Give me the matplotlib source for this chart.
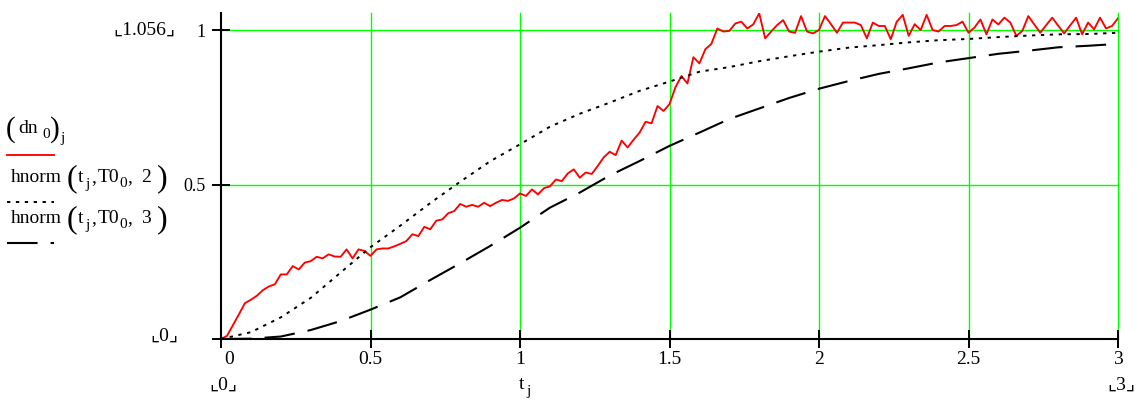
import numpy as np
import matplotlib
matplotlib.use("Agg")
import matplotlib.pyplot as plt
from matplotlib.lines import Line2D

plt.rcParams['font.family'] = ['Liberation Serif', 'DejaVu Sans']
plt.rcParams['mathtext.fontset'] = 'custom'
plt.rcParams['mathtext.rm'] = 'Liberation Serif'
plt.rcParams['mathtext.it'] = 'Liberation Serif:italic'
plt.rcParams['lines.scale_dashes'] = False

# measured response, sampled every 0.02
t_meas = np.round(np.arange(0, 3.0001, 0.02), 2)
dn0 = [
    0.000, 0.010, 0.045, 0.080, 0.116, 0.127, 0.140, 0.158, 0.170, 0.177,
    0.209, 0.209, 0.236, 0.225, 0.247, 0.252, 0.266, 0.261, 0.274, 0.267,
    0.266, 0.290, 0.261, 0.290, 0.285, 0.269, 0.290, 0.293, 0.293, 0.300,
    0.308, 0.317, 0.339, 0.333, 0.363, 0.355, 0.383, 0.387, 0.407, 0.414,
    0.437, 0.428, 0.434, 0.428, 0.441, 0.430, 0.441, 0.450, 0.447, 0.455,
    0.471, 0.463, 0.484, 0.468, 0.488, 0.494, 0.516, 0.511, 0.536, 0.549,
    0.522, 0.539, 0.534, 0.560, 0.588, 0.606, 0.595, 0.642, 0.620, 0.645,
    0.668, 0.703, 0.698, 0.754, 0.738, 0.760, 0.815, 0.851, 0.827, 0.912,
    0.892, 0.938, 0.955, 1.005, 0.995, 0.997, 1.021, 1.027, 1.005, 1.018,
    1.054, 0.973, 0.995, 1.016, 1.032, 0.995, 0.991, 1.045, 0.995, 0.989,
    1.000, 1.045, 1.019, 0.991, 1.024, 1.024, 1.024, 1.016, 0.973, 1.024,
    1.013, 1.013, 0.970, 1.027, 1.049, 0.981, 1.019, 1.000, 1.049, 1.000,
    0.995, 1.013, 1.013, 1.016, 1.027, 0.991, 1.008, 1.034, 0.986, 1.034,
    1.018, 1.040, 1.024, 0.981, 0.997, 1.045, 1.018, 0.991, 1.016, 1.040,
    1.014, 0.989, 1.015, 1.040, 0.986, 1.024, 1.002, 1.040, 1.005, 1.013,
    1.038,
]

# model curves, sampled every 0.1
t_model = np.round(np.arange(0, 3.0001, 0.1), 1)
hnorm2 = [
    0.000, 0.022, 0.070, 0.133, 0.215, 0.297, 0.367, 0.440, 0.509, 0.575,
    0.630, 0.687, 0.729, 0.765, 0.803, 0.833, 0.865, 0.880, 0.899, 0.915,
    0.930, 0.943, 0.951, 0.960, 0.967, 0.971, 0.977, 0.982, 0.986, 0.987,
    0.991,
]
hnorm3 = [
    0.000, 0.001, 0.008, 0.029, 0.058, 0.095, 0.135, 0.191, 0.245, 0.301,
    0.360, 0.425, 0.474, 0.529, 0.576, 0.625, 0.668, 0.712, 0.746, 0.780,
    0.810, 0.835, 0.858, 0.876, 0.895, 0.909, 0.923, 0.933, 0.944, 0.949,
    0.955,
]

x_ticks = [0, 0.5, 1, 1.5, 2, 2.5, 3]
x_tick_labels = ['', '0.5', '1', '1.5', '2', '2.5', '3']
y_ticks = [0, 0.5, 1]
y_tick_labels = ['', '0.5', '1']
x_min, x_max = 0, 3
y_min, y_max = 0, 1.056

RED = '#ff0000'
GREEN = '#00ff00'
DOT = (0, (2.4, 4.0))
DASH = (0, (22, 9.4))

W, H = 1138, 405
fig = plt.figure(figsize=(W / 100, H / 100), dpi=100)
ax = fig.add_axes([221 / W, 1 - 339 / H, (1118 - 221) / W, (339 - 12.7) / H])

ax.plot(t_meas, dn0, color=RED, lw=1.35, zorder=3)
ax.plot(t_model, hnorm2, color='black', lw=1.4, linestyle=DOT, zorder=3)
ax.plot(t_model, hnorm3, color='black', lw=1.5, linestyle=DASH, zorder=3)

ax.set_xlim(x_min, x_max)
ax.set_ylim(y_min, y_max)
ax.set_xticks(x_ticks)
ax.set_xticklabels(x_tick_labels)
ax.set_yticks(y_ticks)
ax.set_yticklabels(y_tick_labels)
ax.tick_params(direction='inout', length=13, width=1.4, color='black')
ax.tick_params(axis='x', pad=2, labelsize=14)
ax.tick_params(axis='y', pad=4.5, labelsize=13)

for xv in x_ticks[1:]:
    ax.axvline(xv, color=GREEN, lw=1.0, zorder=1, clip_on=False)
for yv in y_ticks[1:]:
    ax.axhline(yv, color=GREEN, lw=1.0, zorder=1)

for side in ('top', 'right'):
    ax.spines[side].set_visible(False)
for side in ('left', 'bottom'):
    ax.spines[side].set_linewidth(1.5)
    ax.spines[side].set_color('black')
    ax.spines[side].set_zorder(4)


def fx(px):
    return px / W


def fy(py):
    return 1 - py / H


fam = ['Liberation Serif', 'DejaVu Sans']


def piece(x, y, s, size, va='baseline'):
    fig.text(fx(x), fy(y), s, ha='left', va=va, fontsize=size, family=fam)


# first x tick label sits just right of the vertical axis
fig.text(fx(229), fy(359), '0', ha='center', va='center', fontsize=14, family=fam)

# axis range markers
fig.text(fx(144), fy(30), '\u231e1.056\u231f', ha='center', va='center', fontsize=14, family=fam)
fig.text(fx(164), fy(336), '\u231e0\u231f', ha='center', va='center', fontsize=14, family=fam)
fig.text(fx(223), fy(385), '\u231e0\u231f', ha='center', va='center', fontsize=14, family=fam)
fig.text(fx(1121), fy(385), '\u231e3\u231f', ha='center', va='center', fontsize=14, family=fam)
piece(519, 389, 't', 14)
piece(526, 395, 'j', 11)

# trace key on the left: (dn0)j
piece(6, 137, '(', 21)
piece(18, 133, 'dn', 14)
piece(42, 138, '0', 11)
piece(50, 137, ')', 21)
piece(60, 142, 'j', 11)
fig.add_artist(Line2D([fx(7), fx(54)], [fy(155), fy(155)], color=RED, lw=1.35))

# hnorm(tj, T00, k) for k = 2, 3
for base, k in ((182, '2'), (223, '3')):
    piece(11, base, 'hnorm', 14)
    piece(67, base + 4.5, '(', 23)
    piece(78, base, 't', 14)
    piece(85, base + 6, 'j', 11)
    piece(91, base, ',', 14)
    piece(98, base, 'T0', 14)
    piece(119, base + 5, '0', 11)
    piece(127, base, ',', 14)
    piece(141, base, k, 14)
    piece(157, base + 4.5, ')', 23)

fig.add_artist(Line2D([fx(7), fx(54)], [fy(202), fy(202)], color='black', lw=1.4, linestyle=DOT))
fig.add_artist(Line2D([fx(7), fx(54)], [fy(243), fy(243)], color='black', lw=1.5, linestyle=DASH))

fig.savefig('out.png', dpi=100)
